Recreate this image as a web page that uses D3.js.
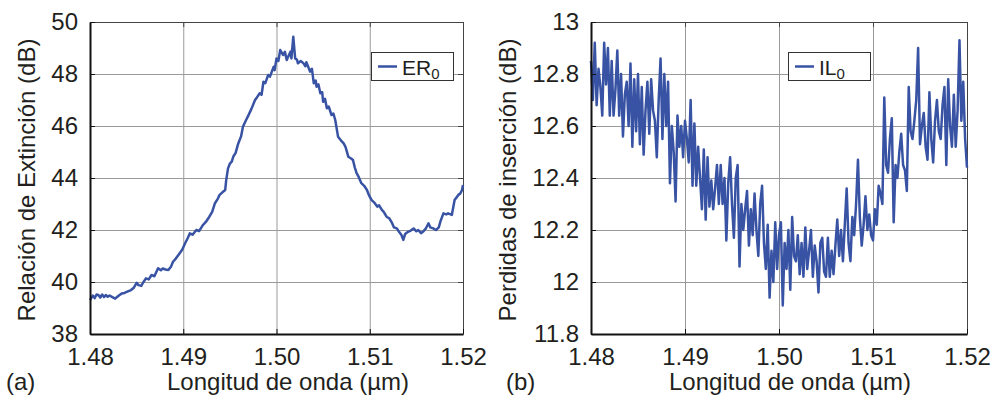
<!DOCTYPE html>
<html>
<head>
<meta charset="utf-8">
<script src="https://cdn.jsdelivr.net/npm/d3@7"></script>
<style>
  body { margin: 0; background: #fff; }
  svg { display: block; font-family: "Liberation Sans", Arial, sans-serif; }
</style>
</head>
<body>
<div id="chart"></div>
<script>
// Panel (a): extinction ratio vs wavelength
const erWavelength = [
  1.4800, 1.4803, 1.4805, 1.4807, 1.4809, 1.4811, 1.4813, 1.4815, 1.4817, 1.4819,
  1.4821, 1.4823, 1.4825, 1.4827, 1.4829, 1.4831, 1.4834, 1.4837, 1.4840, 1.4844,
  1.4847, 1.4850, 1.4852, 1.4855, 1.4857, 1.4860, 1.4863, 1.4866, 1.4869, 1.4873,
  1.4876, 1.4878, 1.4881, 1.4884, 1.4887, 1.4889, 1.4892, 1.4896, 1.4899, 1.4902,
  1.4905, 1.4907, 1.4910, 1.4914, 1.4917, 1.4921, 1.4924, 1.4928, 1.4931, 1.4934,
  1.4937, 1.4939, 1.4942, 1.4945, 1.4946, 1.4948, 1.4950, 1.4952, 1.4954, 1.4956,
  1.4959, 1.4962, 1.4964, 1.4967, 1.4970, 1.4973, 1.4977, 1.4979, 1.4982, 1.4984,
  1.4986, 1.4988, 1.4991, 1.4993, 1.4995, 1.4997, 1.4998, 1.5000, 1.5002, 1.5004,
  1.5006, 1.5007, 1.5009, 1.5011, 1.5013, 1.5015, 1.5016, 1.5018, 1.5020, 1.5022,
  1.5023, 1.5026, 1.5029, 1.5031, 1.5032, 1.5034, 1.5036, 1.5038, 1.5040, 1.5042,
  1.5043, 1.5045, 1.5047, 1.5049, 1.5050, 1.5052, 1.5054, 1.5056, 1.5059, 1.5061,
  1.5063, 1.5066, 1.5069, 1.5072, 1.5074, 1.5077, 1.5080, 1.5082, 1.5084, 1.5086,
  1.5088, 1.5091, 1.5094, 1.5097, 1.5099, 1.5102, 1.5105, 1.5108, 1.5110, 1.5113,
  1.5115, 1.5118, 1.5121, 1.5124, 1.5126, 1.5129, 1.5131, 1.5134, 1.5136, 1.5138,
  1.5141, 1.5144, 1.5147, 1.5150, 1.5152, 1.5155, 1.5157, 1.5160, 1.5163, 1.5165,
  1.5168, 1.5171, 1.5174, 1.5176, 1.5179, 1.5182, 1.5184, 1.5188, 1.5191, 1.5193,
  1.5195, 1.5197, 1.5199, 1.5200
];
const erValues = [
  39.30, 39.48, 39.38, 39.52, 39.50, 39.40, 39.52, 39.42, 39.50, 39.43,
  39.48, 39.44, 39.40, 39.36, 39.42, 39.48, 39.56, 39.58, 39.63, 39.69,
  39.78, 39.97, 39.88, 39.85, 39.98, 40.14, 40.10, 40.27, 40.22, 40.53,
  40.45, 40.52, 40.48, 40.46, 40.60, 40.78, 40.90, 41.10, 41.25, 41.49,
  41.70, 41.87, 41.82, 42.00, 41.96, 42.19, 42.30, 42.51, 42.70, 43.03,
  43.20, 43.35, 43.45, 43.54, 43.90, 44.37, 44.55, 44.63, 44.85, 44.95,
  45.33, 45.60, 45.97, 46.20, 46.42, 46.65, 47.00, 47.10, 47.26, 47.20,
  47.70, 47.65, 47.96, 47.90, 48.09, 48.28, 48.15, 48.60, 48.50, 48.92,
  48.80, 48.73, 48.85, 48.54, 48.70, 48.86, 48.60, 49.43, 48.60, 48.55,
  48.41, 48.50, 48.41, 48.30, 48.45, 48.28, 48.09, 48.20, 47.64, 47.75,
  47.51, 47.60, 47.26, 47.30, 46.93, 47.05, 46.68, 46.75, 46.42, 46.48,
  46.23, 45.59, 45.45, 45.33, 45.20, 44.82, 44.75, 44.69, 44.40, 44.18,
  44.05, 43.80, 43.70, 43.54, 43.35, 43.15, 43.05, 42.90, 42.95, 42.77,
  42.70, 42.51, 42.45, 42.26, 42.10, 42.06, 41.95, 41.81, 41.62, 41.85,
  41.93, 41.98, 42.06, 41.95, 42.00, 41.88, 41.93, 42.05, 42.26, 42.10,
  42.06, 42.00, 42.10, 42.35, 42.64, 42.60, 42.64, 42.58, 43.15, 43.25,
  43.35, 43.40, 43.54, 43.73
];

// Panel (b): insertion loss, sampled every 0.0002 um from 1.48 um
const ilStart = 1.48;
const ilStep = 0.0002;
const ilValues = [
  12.85, 12.70, 12.92, 12.68, 12.82, 12.75, 12.64, 12.92, 12.76, 12.90,
  12.64, 12.85, 12.64, 12.74, 12.89, 12.64, 12.80, 12.56, 12.72, 12.77,
  12.60, 12.84, 12.52, 12.78, 12.58, 12.80, 12.53, 12.75, 12.49, 12.66,
  12.77, 12.57, 12.78, 12.66, 12.62, 12.48, 12.70, 12.86, 12.55, 12.80,
  12.60, 12.77, 12.38, 12.60, 12.50, 12.31, 12.64, 12.52, 12.60, 12.48,
  12.62, 12.55, 12.46, 12.70, 12.37, 12.61, 12.37, 12.52, 12.40, 12.28,
  12.51, 12.24, 12.48, 12.29, 12.39, 12.28, 12.36, 12.45, 12.30, 12.45,
  12.30, 12.40, 12.16, 12.38, 12.48, 12.30, 12.17, 12.40, 12.45, 12.06,
  12.30, 12.20, 12.28, 12.35, 12.14, 12.28, 12.18, 12.34, 12.20, 12.10,
  12.30, 12.37, 12.15, 12.05, 12.22, 11.94, 12.12, 12.00, 12.23, 12.05,
  12.18, 12.23, 11.91, 12.15, 12.05, 12.20, 11.97, 12.25, 12.10, 12.08,
  12.18, 12.03, 12.15, 12.02, 12.21, 12.05, 12.12, 12.20, 12.02, 12.14,
  12.08, 11.96, 12.15, 12.17, 12.04, 12.02, 12.17, 12.02, 12.12, 12.03,
  12.14, 12.24, 12.10, 12.20, 12.08, 12.22, 12.36, 12.15, 12.08, 12.25,
  12.18, 12.30, 12.47, 12.25, 12.14, 12.22, 12.33, 12.20, 12.26, 12.18,
  12.16, 12.28, 12.22, 12.37, 12.34, 12.30, 12.71, 12.45, 12.42, 12.55,
  12.63, 12.23, 12.45, 12.40, 12.50, 12.57, 12.45, 12.43, 12.35, 12.75,
  12.58, 12.55, 12.62, 12.70, 12.90, 12.53, 12.60, 12.65, 12.52, 12.47,
  12.73, 12.55, 12.46, 12.62, 12.70, 12.58, 12.55, 12.68, 12.75, 12.45,
  12.78, 12.60, 12.52, 12.72, 12.52, 12.66, 12.93, 12.62, 12.77, 12.55,
  12.44
];

const xTicks = [1.48, 1.49, 1.50, 1.51, 1.52];
const erTicks = [38, 40, 42, 44, 46, 48, 50];
const ilTicks = [11.8, 12, 12.2, 12.4, 12.6, 12.8, 13];

const width = 994;
const height = 397;
const lineColor = '#3953a4';
const textColor = '#231f20';

const svg = d3.select('#chart').append('svg')
    .attr('width', width)
    .attr('height', height);

const erData = erWavelength.map((w, i) => ({ x: w, y: erValues[i] }));
const ilData = ilValues.map((v, i) => ({ x: ilStart + i * ilStep, y: v }));

drawPanel({
  left: 90, right: 463, top: 22, bottom: 334,
  data: erData, yDomain: [38, 50], yTicks: erTicks, yFormat: d => d,
  yTitle: 'Relación de Extinción (dB)', yTitleX: 35,
  xTitleX: 288, tag: '(a)', tagX: 6,
  legend: { x: 371, w: 82, name: 'ER', sub: '0' }
});

drawPanel({
  left: 591, right: 967, top: 22, bottom: 334,
  data: ilData, yDomain: [11.8, 13], yTicks: ilTicks, yFormat: d => d3.format('~g')(d),
  yTitle: 'Perdidas de inserción (dB)', yTitleX: 516,
  xTitleX: 790, tag: '(b)', tagX: 506,
  legend: { x: 788, w: 82, name: 'IL', sub: '0' }
});

function drawPanel(p) {
  const x = d3.scaleLinear([1.48, 1.52], [p.left, p.right]);
  const y = d3.scaleLinear(p.yDomain, [p.bottom, p.top]);
  const w = p.right - p.left;
  const h = p.bottom - p.top;
  const g = svg.append('g');

  // grid
  g.append('g')
      .attr('transform', `translate(0,${p.bottom})`)
      .call(d3.axisBottom(x).tickValues(xTicks).tickSize(-h).tickFormat(''))
      .call(s => s.select('.domain').remove())
      .call(s => s.selectAll('line').attr('stroke', '#9a9a9a').attr('stroke-width', 1));
  g.append('g')
      .attr('transform', `translate(${p.left},0)`)
      .call(d3.axisLeft(y).tickValues(p.yTicks).tickSize(-w).tickFormat(''))
      .call(s => s.select('.domain').remove())
      .call(s => s.selectAll('line').attr('stroke', '#9a9a9a').attr('stroke-width', 1));

  // top and right frame with inner ticks
  g.append('g')
      .attr('transform', `translate(0,${p.top})`)
      .call(d3.axisTop(x).tickValues(xTicks).tickSize(-5).tickFormat('').tickSizeOuter(0))
      .call(s => s.selectAll('path, line').attr('stroke', '#444').attr('stroke-width', 1));
  g.append('g')
      .attr('transform', `translate(${p.right},0)`)
      .call(d3.axisRight(y).tickValues(p.yTicks).tickSize(-5).tickFormat('').tickSizeOuter(0))
      .call(s => s.selectAll('path, line').attr('stroke', '#444').attr('stroke-width', 1));

  // data line
  const line = d3.line().x(d => x(d.x)).y(d => y(d.y));
  g.append('path')
      .datum(p.data)
      .attr('fill', 'none')
      .attr('stroke', lineColor)
      .attr('stroke-width', 2.5)
      .attr('stroke-linejoin', 'round')
      .attr('d', line);

  // bottom and left axes
  g.append('g')
      .attr('transform', `translate(0,${p.bottom})`)
      .call(d3.axisBottom(x).tickValues(xTicks).tickSize(-5).tickSizeOuter(0)
          .tickPadding(14).tickFormat(d3.format('.2f')))
      .call(s => s.select('.domain').attr('stroke', '#111').attr('stroke-width', 2))
      .call(s => s.selectAll('line').attr('stroke', '#111'))
      .call(s => s.selectAll('text').attr('font-size', 24).attr('fill', textColor)
          .attr('font-family', '"Liberation Sans", Arial, sans-serif'));
  g.append('g')
      .attr('transform', `translate(${p.left},0)`)
      .call(d3.axisLeft(y).tickValues(p.yTicks).tickSize(-5).tickSizeOuter(0)
          .tickPadding(12).tickFormat(p.yFormat))
      .call(s => s.select('.domain').attr('stroke', '#111').attr('stroke-width', 2))
      .call(s => s.selectAll('line').attr('stroke', '#111'))
      .call(s => s.selectAll('text').attr('font-size', 24).attr('fill', textColor)
          .attr('font-family', '"Liberation Sans", Arial, sans-serif'));

  // titles
  svg.append('text')
      .attr('x', p.xTitleX).attr('y', 390)
      .attr('text-anchor', 'middle')
      .attr('font-size', 24).attr('fill', textColor)
      .text('Longitud de onda (µm)');
  svg.append('text')
      .attr('x', p.tagX).attr('y', 390)
      .attr('font-size', 24).attr('fill', textColor)
      .text(p.tag);
  svg.append('text')
      .attr('transform', `translate(${p.yTitleX},${(p.top + p.bottom) / 2 + 2}) rotate(-90)`)
      .attr('text-anchor', 'middle')
      .attr('font-size', 24).attr('fill', textColor)
      .text(p.yTitle);

  // legend
  const lg = svg.append('g').attr('transform', `translate(${p.legend.x},52)`);
  lg.append('rect')
      .attr('x', 0.5).attr('y', 0.5)
      .attr('width', p.legend.w).attr('height', 28)
      .attr('fill', '#fff').attr('stroke', '#333').attr('stroke-width', 1);
  lg.append('line')
      .attr('x1', 7).attr('x2', 26).attr('y1', 14.5).attr('y2', 14.5)
      .attr('stroke', lineColor).attr('stroke-width', 2.5);
  const lt = lg.append('text')
      .attr('x', 31).attr('y', 23)
      .attr('font-size', 21).attr('fill', textColor)
      .text(p.legend.name);
  lt.append('tspan')
      .attr('font-size', 15).attr('dy', 4)
      .text(p.legend.sub);
}
</script>
</body>
</html>
